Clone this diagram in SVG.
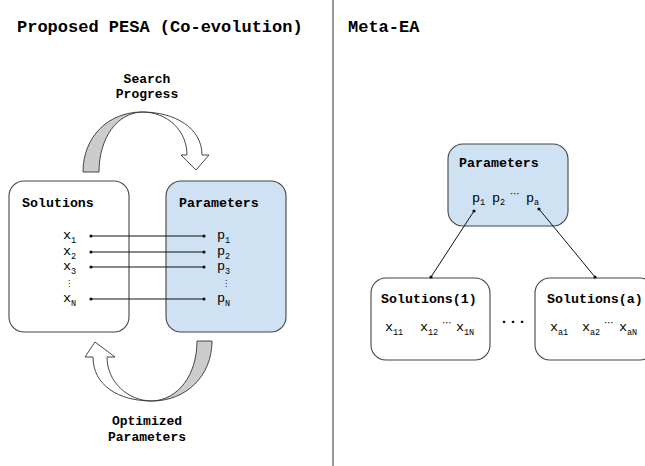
<svg xmlns="http://www.w3.org/2000/svg" width="645" height="466" viewBox="0 0 645 466">
<defs>
<style>
text{font-family:"Liberation Mono","DejaVu Sans Mono",monospace;fill:#000}
.t{font-size:17px;font-weight:bold}
.h{font-size:13.3px;font-weight:bold}
.c{font-size:13px;font-weight:bold;text-anchor:middle}
.m{font-size:13.5px}
.s{font-size:8.5px}
.e{font-size:10px;font-family:"DejaVu Sans",sans-serif;text-anchor:middle}
.v{font-size:8px;font-family:"DejaVu Sans",sans-serif;text-anchor:middle}
.box{stroke:#444;stroke-width:1.1;fill:#fff}
.blue{fill:#cfe2f3}
.con{stroke:#111;stroke-width:1;fill:none;marker-start:url(#dot);marker-end:url(#dot)}
.arw{stroke:#333;stroke-width:0.9}
</style>
<marker id="dot" viewBox="-3 -3 6 6" markerWidth="6" markerHeight="6" markerUnits="userSpaceOnUse" refX="0" refY="0">
<circle r="1.6" fill="#111"/>
</marker>
</defs>
<rect width="645" height="466" fill="#fff"/>
<line x1="333" y1="0" x2="333" y2="466" stroke="#555" stroke-width="1.2"/>
<text class="t" x="17" y="32">Proposed PESA (Co-evolution)</text>
<text class="t" x="348" y="32">Meta-EA</text>

<g id="search-progress">
<text class="c" x="147" y="83">Search</text>
<text class="c" x="147" y="98">Progress</text>
<path class="arw" fill="#ccc" d="M83,172 C83,137 108,112 142,112 C117,113 99,138 99,172 Z"/>
<path class="arw" fill="#fff" d="M142,112 C175,112 202,128 202,155 L209,155 L196,170 L181,155 L187,155 C187,131 168,112 142,112 Z"/>
</g>

<g id="optimized-parameters">
<path class="arw" fill="#fff" d="M152,401 C118,401 93,385 93,357 L85,357 L95,342 L115,357 L107,357 C107,382 128,401 152,401 Z"/>
<path class="arw" fill="#ccc" d="M197,341 L212,341 C212,376 186,401 152,401 C178,400 197,375 197,341 Z"/>
<text class="c" x="147" y="425">Optimized</text>
<text class="c" x="147" y="441">Parameters</text>
</g>

<g id="solutions">
<rect class="box" x="9" y="181" width="120" height="151" rx="15"/>
<text class="h" x="22" y="207">Solutions</text>
<text class="m" x="63" y="239">x</text><text class="s" x="71" y="243">1</text>
<text class="m" x="63" y="255">x</text><text class="s" x="71" y="259">2</text>
<text class="m" x="63" y="270">x</text><text class="s" x="71" y="274">3</text>
<text class="v" x="69" y="286">⋮</text>
<text class="m" x="63" y="302">x</text><text class="s" x="71" y="306">N</text>
</g>

<g id="parameters">
<rect class="box blue" x="166" y="181" width="120" height="151" rx="15"/>
<text class="h" x="179" y="207">Parameters</text>
<text class="m" x="217" y="239">p</text><text class="s" x="225" y="243">1</text>
<text class="m" x="217" y="255">p</text><text class="s" x="225" y="259">2</text>
<text class="m" x="217" y="270">p</text><text class="s" x="225" y="274">3</text>
<text class="v" x="226" y="286">⋮</text>
<text class="m" x="217" y="302">p</text><text class="s" x="225" y="306">N</text>
</g>

<g id="meta-parameters">
<rect class="box blue" x="448" y="144" width="120" height="82" rx="15"/>
<text class="h" x="459" y="167">Parameters</text>
<text class="m" x="472" y="202">p</text><text class="s" x="480" y="205">1</text>
<text class="m" x="492" y="202">p</text><text class="s" x="500" y="205">2</text>
<text class="e" x="515" y="197">⋯</text>
<text class="m" x="526" y="202">p</text><text class="s" x="534" y="205">a</text>
</g>

<g id="solutions-1">
<rect class="box" x="371" y="278" width="119" height="82" rx="15"/>
<text class="h" x="381" y="303">Solutions(1)</text>
<text class="m" x="385" y="331">x</text><text class="s" x="393" y="335">11</text>
<text class="m" x="420" y="331">x</text><text class="s" x="428" y="335">12</text>
<text class="e" x="447" y="326">⋯</text>
<text class="m" x="456" y="331">x</text><text class="s" x="464" y="335">1N</text>
</g>

<text id="ellipsis" x="513" y="323" text-anchor="middle" style="font-size:15px;font-weight:bold">...</text>

<g id="solutions-a">
<rect class="box" x="535" y="278" width="120" height="82" rx="15"/>
<text class="h" x="547" y="303">Solutions(a)</text>
<text class="m" x="550" y="331">x</text><text class="s" x="558" y="335">a1</text>
<text class="m" x="582" y="331">x</text><text class="s" x="590" y="335">a2</text>
<text class="e" x="609" y="326">⋯</text>
<text class="m" x="619" y="331">x</text><text class="s" x="627" y="335">aN</text>
</g>

<g id="connectors">
<line class="con" x1="91" y1="236" x2="204" y2="236"/>
<line class="con" x1="91" y1="252" x2="204" y2="252"/>
<line class="con" x1="91" y1="267" x2="204" y2="267"/>
<line class="con" x1="91" y1="299" x2="204" y2="299"/>
<line class="con" x1="474" y1="211" x2="431" y2="277"/>
<line class="con" x1="539" y1="209" x2="595" y2="277"/>
</g>
</svg>
